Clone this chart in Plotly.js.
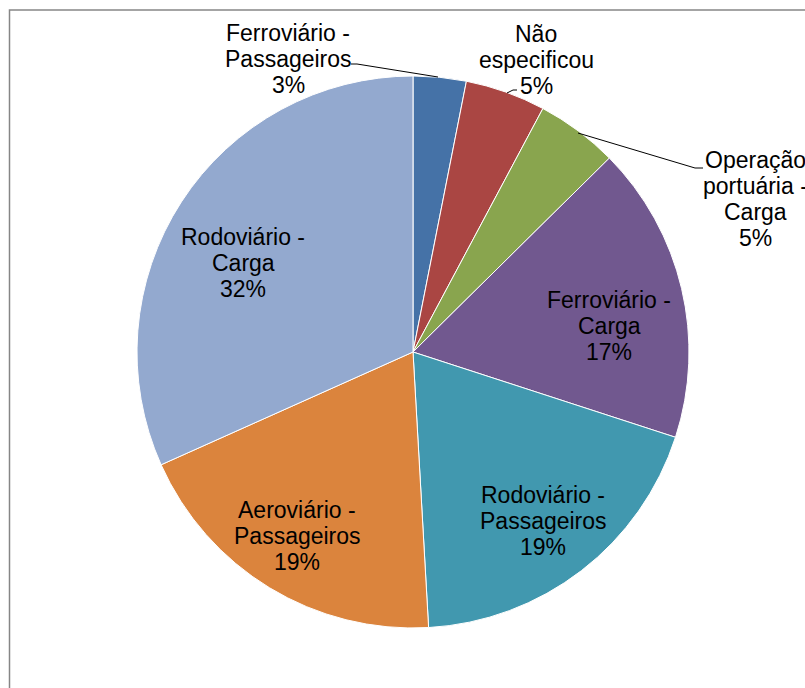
<!DOCTYPE html>
<html>
<head>
<meta charset="utf-8">
<script src="https://cdn.plot.ly/plotly-3.0.1.min.js"></script>
<style>html,body{margin:0;padding:0;background:#fff;}#chart{width:805px;height:688px;}</style>
</head>
<body>
<div id="chart"></div>
<script>
// ---- data ----
var categories = ['Ferroviário - Passageiros', 'Não especificou', 'Operação portuária - Carga',
                  'Ferroviário - Carga', 'Rodoviário - Passageiros', 'Aeroviário - Passageiros',
                  'Rodoviário - Carga'];
var displayLines = [['Ferroviário -', 'Passageiros'], ['Não', 'especificou'], ['Operação', 'portuária -', 'Carga'],
                    ['Ferroviário -', 'Carga'], ['Rodoviário -', 'Passageiros'], ['Aeroviário -', 'Passageiros'],
                    ['Rodoviário -', 'Carga']];
var shares = [3.1, 4.7, 4.8, 17.4, 19.1, 19.2, 31.7];

// ---- styles / positions ----
var colors = ['#4572A7', '#AA4643', '#89A54E', '#71588F', '#4198AF', '#DB843D', '#93A9CF'];
var W = 805, H = 688;
var LINE = 26;
// label block centres in pixels
var labelPos = [[288, 59], [536, 60], [755, 199], [609, 326], [543, 521], [297, 536], [243, 263]];
// leader lines in pixels
var leaders = [
  [[351, 64], [357, 64], [438, 77]],
  [[507, 93], [513, 90], [517, 90]],
  [[578, 133], [695, 168], [703, 168]]
];

function px(x) { return x / W; }
function py(y) { return 1 - y / H; }

var total = shares.reduce(function (a, b) { return a + b; }, 0);

var annotations = [];
categories.forEach(function (c, i) {
  var lines = displayLines[i].concat([Math.round(shares[i] / total * 100) + '%']);
  var n = lines.length;
  lines.forEach(function (t, k) {
    var yc = labelPos[i][1] + (k - (n - 1) / 2) * LINE;
    annotations.push({
      text: t,
      x: px(labelPos[i][0]), y: py(yc),
      xref: 'paper', yref: 'paper', xanchor: 'center', yanchor: 'middle',
      align: 'center', showarrow: false,
      font: {family: 'Liberation Sans, Arial, sans-serif', size: 23, color: '#000000'}
    });
  });
});

var shapes = leaders.map(function (pts) {
  var d = pts.map(function (p, k) { return (k ? 'L' : 'M') + px(p[0]) + ',' + py(p[1]); }).join(' ');
  return {type: 'path', xref: 'paper', yref: 'paper', path: d, line: {color: '#000000', width: 1}};
});
shapes.push({type: 'rect', xref: 'paper', yref: 'paper',
  x0: px(9.5), x1: 1.05, y0: -0.05, y1: py(10),
  line: {color: '#868686', width: 1.5}, fillcolor: 'rgba(0,0,0,0)', layer: 'below'});

var trace = {
  type: 'pie',
  labels: categories,
  values: shares,
  sort: false,
  direction: 'clockwise',
  rotation: 0,
  textinfo: 'none',
  hoverinfo: 'label+percent',
  marker: {colors: colors, line: {color: '#ffffff', width: 1}},
  domain: {x: [px(137), px(689)], y: [py(628), py(76)]},
  showlegend: false
};

var layout = {
  width: W, height: H,
  margin: {l: 0, r: 0, t: 0, b: 0},
  paper_bgcolor: '#ffffff',
  showlegend: false,
  annotations: annotations,
  shapes: shapes
};

Plotly.newPlot('chart', [trace], layout, {displayModeBar: false, staticPlot: true});
</script>
</body>
</html>
